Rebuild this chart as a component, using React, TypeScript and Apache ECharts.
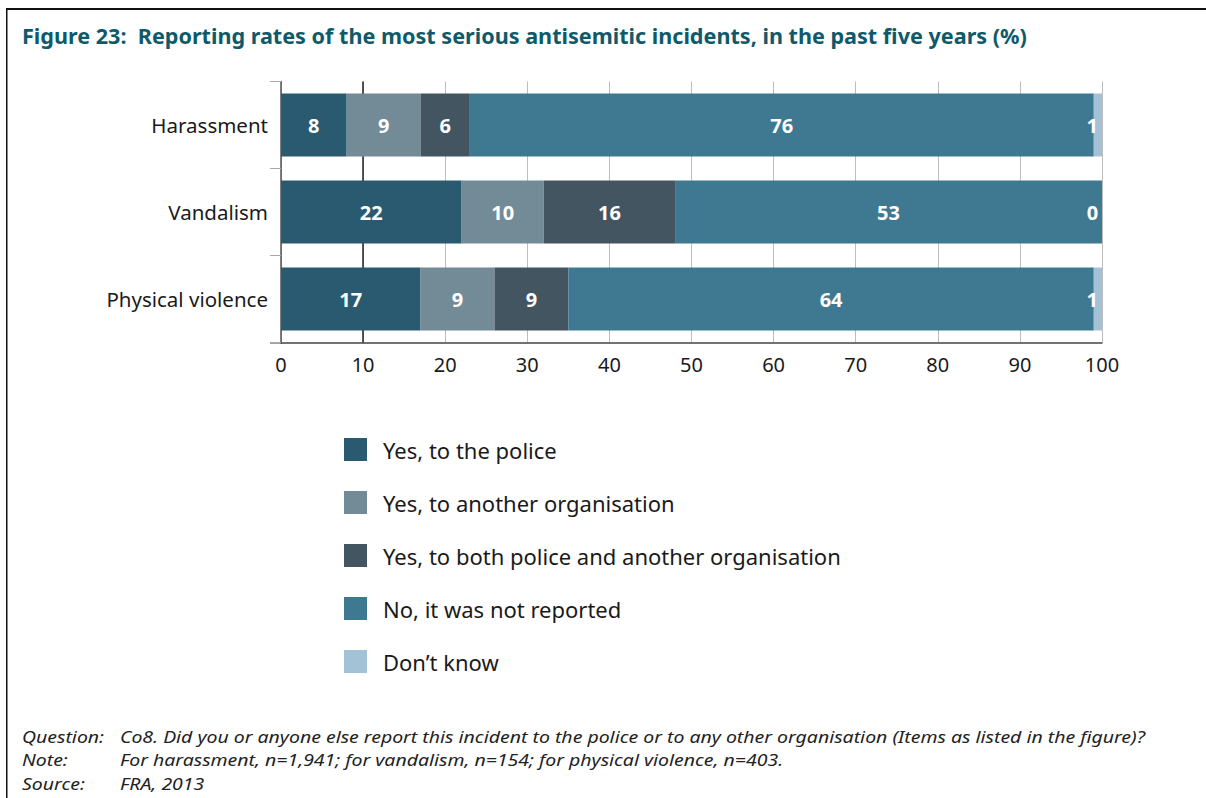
import React, { useEffect, useRef } from "react";
import * as echarts from "echarts";

const categories = ["Harassment", "Vandalism", "Physical violence"];
const seriesNames = [
  "Yes, to the police",
  "Yes, to another organisation",
  "Yes, to both police and another organisation",
  "No, it was not reported",
  "Don\u2019t know",
];
const police = [8, 22, 17];
const anotherOrg = [9, 10, 9];
const both = [6, 16, 9];
const notReported = [76, 53, 64];
const dontKnow = [1, 0, 1];
const xTicks = { min: 0, max: 100, interval: 10 };

const colors = ["#295a6f", "#738a97", "#435560", "#3f7891", "#a4c2d6"];
const FONT = "'Noto Sans', sans-serif";

export default function App() {
  const ref = useRef<HTMLDivElement>(null);
  useEffect(() => {
    if (!ref.current) return;
    const chart = echarts.init(ref.current, null, { renderer: "svg" });
    const values = [police, anotherOrg, both, notReported, dontKnow];
    const series: any[] = values.map((vals, i) => {
      const isLast = i === values.length - 1;
      return {
        name: seriesNames[i],
        type: "bar",
        stack: "total",
        barWidth: 63,
        clip: !isLast,
        itemStyle: { color: colors[i] },
        label: {
          show: true,
          position: isLast ? "insideRight" : "inside",
          distance: 4,
          color: "#ffffff",
          fontFamily: FONT,
          fontWeight: "bold",
          fontSize: 20,
        },
        data: vals.map((v) =>
          isLast && v === 0 ? { value: v, label: { offset: [-8, 0] } } : v
        ),
        ...(i === 0
          ? {
              markLine: {
                silent: true,
                symbol: "none",
                z: 1,
                label: { show: false },
                lineStyle: { color: "#222", width: 1.5, type: "solid" },
                data: [{ xAxis: 10 }],
              },
            }
          : {}),
      };
    });

    const footStyle = {
      fill: "#222",
      fontFamily: FONT,
      fontStyle: "italic",
      fontSize: 16.5,
      lineHeight: 20,
    };

    chart.setOption({
      animation: false,
      color: colors,
      textStyle: { fontFamily: FONT },
      grid: { left: 281, right: 104, top: 81.5, bottom: 455.5, containLabel: false },
      xAxis: {
        type: "value",
        min: xTicks.min,
        max: xTicks.max,
        interval: xTicks.interval,
        axisLine: { show: true, lineStyle: { color: "#444", width: 1.5 } },
        axisTick: { show: false },
        splitLine: { show: true, lineStyle: { color: "#bdbdbd", width: 1 } },
        axisLabel: { color: "#1a1a1a", fontSize: 20, margin: 12, fontFamily: FONT },
      },
      yAxis: {
        type: "category",
        inverse: true,
        data: categories,
        axisLine: { show: true, lineStyle: { color: "#555", width: 1.5 } },
        axisTick: { show: true, length: 11, lineStyle: { color: "#aaa" } },
        axisLabel: { color: "#1a1a1a", fontSize: 20.5, margin: 13, fontFamily: FONT },
      },
      legend: {
        orient: "vertical",
        left: 339,
        top: 433,
        itemWidth: 23,
        itemHeight: 23,
        itemGap: 30,
        icon: "rect",
        data: seriesNames,
        textStyle: { color: "#1a1a1a", fontSize: 22, fontFamily: FONT, padding: [0, 0, 0, 11] },
        selectedMode: false,
      },
      graphic: [
        { type: "rect", shape: { x: 6, y: 8, width: 1200, height: 2 }, style: { fill: "#111" } },
        { type: "rect", shape: { x: 6, y: 8, width: 1.5, height: 790 }, style: { fill: "#111" } },
        { type: "rect", shape: { x: 270, y: 342, width: 12, height: 1.5 }, style: { fill: "#444" } },
        {
          type: "text",
          left: 22,
          top: 24,
          style: {
            text: "Figure 23:  Reporting rates of the most serious antisemitic incidents, in the past five years (%)",
            fill: "#0f5a6a",
            fontFamily: FONT,
            fontWeight: "bold",
            fontSize: 21.6,
          },
        },
        ...[
          ["Question:", "Co8. Did you or anyone else report this incident to the police or to any other organisation (Items as listed in the figure)?", 727],
          ["Note:", "For harassment, n=1,941; for vandalism, n=154; for physical violence, n=403.", 750],
          ["Source:", "FRA, 2013", 774],
        ].flatMap(([a, b, y]) => [
          { type: "text", x: 22, y: y as number, scaleX: 1.18, style: { ...footStyle, text: a as string } },
          { type: "text", x: 120, y: y as number, scaleX: 1.18, style: { ...footStyle, text: b as string } },
        ]),
      ],
      series,
    });
    return () => chart.dispose();
  }, []);
  return (
    <div
      ref={ref}
      style={{ position: "fixed", left: 0, top: 0, width: 1206, height: 798, background: "#fff" }}
    />
  );
}
